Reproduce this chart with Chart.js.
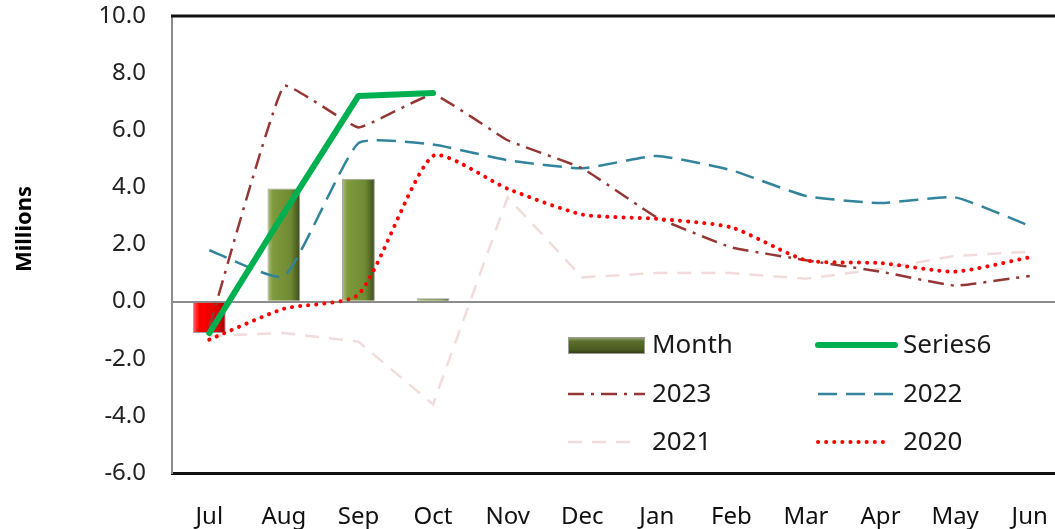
<!DOCTYPE html>
<html>
<head>
<meta charset="utf-8">
<script src="https://cdn.jsdelivr.net/npm/chart.js@4"></script>
<style>
  html, body { margin: 0; padding: 0; background: #fff; overflow: hidden; }
  #wrap { width: 1055px; height: 529px; overflow: hidden; }
</style>
</head>
<body>
<div id="wrap"><canvas id="chart" width="1067" height="529"></canvas></div>
<script>
// data (millions)
const months = ['Jul', 'Aug', 'Sep', 'Oct', 'Nov', 'Dec', 'Jan', 'Feb', 'Mar', 'Apr', 'May', 'Jun'];
const monthBars = [-1.1, 3.96, 4.3, 0.12, null, null, null, null, null, null, null, null];
const series6 = [-1.1, 3.1, 7.2, 7.3, null, null, null, null, null, null, null, null];
const y2023 = [-0.9, 7.55, 6.1, 7.25, 5.65, 4.67, 2.95, 1.9, 1.45, 1.05, 0.56, 0.9];
const y2022 = [1.8, 0.88, 5.55, 5.5, 4.95, 4.67, 5.1, 4.6, 3.7, 3.45, 3.65, 2.65];
const y2021 = [-1.2, -1.1, -1.4, -3.6, 3.65, 0.85, 1.0, 1.0, 0.8, 1.15, 1.6, 1.75];
const y2020 = [-1.33, -0.25, 0.25, 5.1, 3.95, 3.05, 2.9, 2.6, 1.45, 1.35, 1.05, 1.55];
const yTicks = [-6, -4, -2, 0, 2, 4, 6, 8, 10];

const FONT = '"Noto Sans", sans-serif';

function barFill(c) {
  const ch = c.chart;
  if (!ch.chartArea) return '#77933c';
  const x = ch.scales.x.getPixelForValue(c.dataIndex);
  const hw = 17;
  const g = ch.ctx.createLinearGradient(x - hw, 0, x + hw, 0);
  if (c.raw < 0) {
    g.addColorStop(0, '#ff7070');
    g.addColorStop(0.2, '#ff0000');
    g.addColorStop(0.75, '#e00000');
    g.addColorStop(1, '#8c0000');
  } else {
    g.addColorStop(0, '#b3c283');
    g.addColorStop(0.18, '#7f9a3c');
    g.addColorStop(0.7, '#6f8a33');
    g.addColorStop(1, '#3a4719');
  }
  return g;
}

// plot frame, y title and the legend inside the plot
const extras = {
  id: 'extras',
  afterDraw(chart) {
    const { ctx, chartArea: a } = chart;
    ctx.save();
    ctx.strokeStyle = '#111';
    ctx.lineWidth = 3;
    ctx.beginPath();
    ctx.moveTo(a.left - 1, a.top);
    ctx.lineTo(a.right, a.top);
    ctx.stroke();

    ctx.translate(25, 229);
    ctx.rotate(-Math.PI / 2);
    ctx.fillStyle = '#000';
    ctx.font = 'bold 22px ' + FONT;
    ctx.textAlign = 'center';
    ctx.textBaseline = 'middle';
    ctx.fillText('Millions', 0, 0);
    ctx.restore();

    const ds = chart.data.datasets;
    const items = [
      { i: 0, x: 568, y: 345, w: 77 },
      { i: 1, x: 818, y: 345, w: 77 },
      { i: 2, x: 568, y: 394, w: 77 },
      { i: 3, x: 818, y: 394, w: 77 },
      { i: 4, x: 568, y: 442, w: 72 },
      { i: 5, x: 818, y: 442, w: 72 }
    ];
    items.forEach(it => {
      const d = ds[it.i];
      ctx.save();
      if (d.type === 'bar') {
        const g = ctx.createLinearGradient(0, it.y - 8, 0, it.y + 9);
        g.addColorStop(0, '#a0ad80');
        g.addColorStop(0.25, '#5b6e2c');
        g.addColorStop(0.75, '#4a5a22');
        g.addColorStop(1, '#2d3712');
        ctx.fillStyle = g;
        ctx.fillRect(it.x, it.y - 8, it.w, 17);
        ctx.strokeStyle = '#9a9a9a';
        ctx.lineWidth = 1;
        ctx.strokeRect(it.x + 0.5, it.y - 7.5, it.w - 1, 16);
      } else {
        ctx.strokeStyle = d.borderColor;
        ctx.lineWidth = d.borderWidth;
        ctx.lineCap = d.borderCapStyle || 'butt';
        ctx.setLineDash(d.borderDash || []);
        ctx.beginPath();
        ctx.moveTo(it.x, it.y);
        ctx.lineTo(it.x + it.w, it.y);
        ctx.stroke();
      }
      ctx.restore();
      ctx.fillStyle = '#1a1a1a';
      ctx.font = '26px ' + FONT;
      ctx.textBaseline = 'middle';
      ctx.fillText(d.label, it.x + (it.i % 2 === 0 ? 84 : 85), it.y + 1);
    });
  }
};

new Chart(document.getElementById('chart'), {
  data: {
    labels: months,
    datasets: [
      {
        type: 'bar', label: 'Month', data: monthBars,
        backgroundColor: barFill, borderColor: '#a0a0a0', borderWidth: 1,
        barPercentage: 0.44, categoryPercentage: 1, order: 10
      },
      {
        type: 'line', label: 'Series6', data: series6,
        borderColor: '#00b050', borderWidth: 6, borderCapStyle: 'round', borderJoinStyle: 'round',
        pointRadius: 0, tension: 0, order: 0
      },
      {
        type: 'line', label: '2023', data: y2023,
        borderColor: '#953735', borderWidth: 2.5, borderDash: [16, 7, 3, 7],
        pointRadius: 0, tension: 0.1, order: 3
      },
      {
        type: 'line', label: '2022', data: y2022,
        borderColor: '#31849b', borderWidth: 2.5, borderDash: [19, 9],
        pointRadius: 0, tension: 0.15, order: 4
      },
      {
        type: 'line', label: '2021', data: y2021,
        borderColor: '#f2dcdb', borderWidth: 2.5, borderDash: [14, 10],
        pointRadius: 0, tension: 0, order: 5
      },
      {
        type: 'line', label: '2020', data: y2020,
        borderColor: '#ff0000', borderWidth: 4, borderDash: [0.1, 8], borderCapStyle: 'round',
        pointRadius: 0, tension: 0.2, order: 2
      }
    ]
  },
  options: {
    responsive: false,
    animation: false,
    layout: { padding: 0 },
    plugins: { legend: { display: false }, tooltip: { enabled: false } },
    scales: {
      x: {
        offset: true,
        grid: { display: false },
        border: { display: true, color: '#111', width: 3 },
        ticks: { color: '#111', font: { family: FONT, size: 24 }, padding: 22, maxRotation: 0 },
        afterFit(s) { s.height = 56; s.paddingLeft = 0; s.paddingRight = 0; }
      },
      y: {
        min: -6, max: 10,
        afterBuildTicks(s) { s.ticks = yTicks.map(v => ({ value: v })); },
        grid: {
          drawTicks: false,
          color: c => (c.tick && c.tick.value === 0 ? '#8c8c8c' : 'rgba(0,0,0,0)'),
          lineWidth: 2
        },
        border: { display: true, color: '#8c8c8c', width: 2 },
        ticks: {
          color: '#222', font: { family: FONT, size: 24 }, padding: 26,
          callback: v => v.toFixed(1)
        },
        afterFit(s) { s.width = 172; s.paddingTop = 16; s.paddingBottom = 0; }
      }
    }
  },
  plugins: [extras]
});
</script>
</body>
</html>
